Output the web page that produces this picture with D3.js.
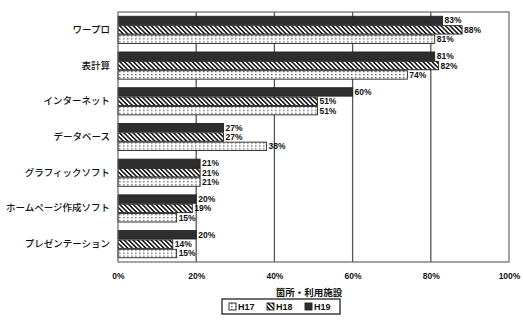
<!DOCTYPE html>
<html>
<head>
<meta charset="utf-8">
<script src="https://cdn.jsdelivr.net/npm/d3@7"></script>
<style>
  html, body { margin: 0; padding: 0; background: #fff; }
  svg { display: block; }
  text { font-family: "Noto Sans CJK JP", "Noto Sans", sans-serif; fill: #111; }
  .num { font-family: "Liberation Sans Narrow", "Liberation Sans", sans-serif; font-weight: bold; }
</style>
</head>
<body>
<svg id="chart" width="523" height="322"></svg>
<script>
// Software usage by category, three survey years (%)
const categories = ["ワープロ", "表計算", "インターネット", "データベース", "グラフィックソフト", "ホームページ作成ソフト", "プレゼンテーション"];
const seriesNames = ["H19", "H18", "H17"];
const valuesH19 = [83, 81, 60, 27, 21, 20, 20];
const valuesH18 = [88, 82, 51, 27, 21, 19, 14];
const valuesH17 = [81, 74, 51, 38, 21, 15, 15];
const xTicks = [0, 20, 40, 60, 80, 100];
const xTitle = "箇所・利用施設";
const legendOrder = ["H17", "H18", "H19"];

const seriesValues = { H19: valuesH19, H18: valuesH18, H17: valuesH17 };

const svg = d3.select("#chart");
const margin = { left: 118, right: 14, top: 12, bottom: 60 };
const W = 523, H = 322;
const plotW = W - margin.left - margin.right;
const plotH = H - margin.top - margin.bottom;

// Fill patterns for the three series
const defs = svg.append("defs");
const dots = defs.append("pattern").attr("id", "pDots").attr("patternUnits", "userSpaceOnUse")
  .attr("width", 4).attr("height", 3);
dots.append("rect").attr("width", 4).attr("height", 3).attr("fill", "#fff");
dots.append("rect").attr("x", 1).attr("y", 1).attr("width", 1.6).attr("height", 1.3).attr("fill", "#7a7a7a");

const hatch = defs.append("pattern").attr("id", "pHatch").attr("patternUnits", "userSpaceOnUse")
  .attr("width", 3.2).attr("height", 3.2).attr("patternTransform", "rotate(-45)");
hatch.append("rect").attr("width", 3.2).attr("height", 3.2).attr("fill", "#fff");
hatch.append("rect").attr("x", 0).attr("y", 0).attr("width", 1.6).attr("height", 3.2).attr("fill", "#1a1a1a");

const fills = { H19: "#2e2e2e", H18: "url(#pHatch)", H17: "url(#pDots)" };

const g = svg.append("g").attr("transform", `translate(${margin.left},${margin.top})`);

const x = d3.scaleLinear().domain([0, 100]).range([0, plotW]);
const y = d3.scaleBand().domain(categories).range([0, plotH]).paddingInner(0.24).paddingOuter(0.12);
const yInner = d3.scaleBand().domain(seriesNames).range([0, y.bandwidth()]).paddingInner(0.1);

// Vertical grid lines
g.selectAll("line.grid").data(xTicks.filter(t => t > 0 && t < 100)).join("line")
  .attr("class", "grid")
  .attr("x1", d => x(d)).attr("x2", d => x(d))
  .attr("y1", 0).attr("y2", plotH)
  .attr("stroke", "#555").attr("stroke-width", 1.3);

// Bars
const groups = g.selectAll("g.cat").data(categories).join("g")
  .attr("class", "cat")
  .attr("transform", d => `translate(0,${y(d)})`);

groups.each(function (cat, i) {
  const grp = d3.select(this);
  seriesNames.forEach(s => {
    const v = seriesValues[s][i];
    grp.append("rect")
      .attr("x", x(0))
      .attr("y", yInner(s))
      .attr("width", x(v) - x(0))
      .attr("height", yInner.bandwidth())
      .attr("fill", fills[s])
      .attr("stroke", "#222").attr("stroke-width", 0.9);
    grp.append("text")
      .attr("class", "num")
      .attr("x", x(v) + 2)
      .attr("y", yInner(s) + yInner.bandwidth() / 2)
      .attr("dy", "0.35em")
      .attr("font-size", 8.5)
      .text(v + "%");
  });
});

// Plot frame
g.append("rect").attr("x", 0).attr("y", 0).attr("width", plotW).attr("height", plotH)
  .attr("fill", "none").attr("stroke", "#666").attr("stroke-width", 1.2);

// Category axis
const yAxis = g.append("g").call(d3.axisLeft(y).tickSize(0).tickPadding(8));
yAxis.select(".domain").remove();
yAxis.selectAll("text").attr("font-size", 9.5).attr("font-weight", 500)
  .style("font-family", "'Noto Sans CJK JP', sans-serif");

// Percentage axis
const xAxis = g.append("g").attr("transform", `translate(0,${plotH})`)
  .call(d3.axisBottom(x).tickValues(xTicks).tickSize(0).tickPadding(11).tickFormat(d => d + "%"));
xAxis.select(".domain").remove();
xAxis.selectAll("text").attr("font-size", 8.5).attr("font-weight", "bold")
  .style("font-family", "'Liberation Sans Narrow', 'Liberation Sans', sans-serif");

// Axis title
svg.append("text")
  .attr("x", 309).attr("y", 296)
  .attr("text-anchor", "middle")
  .attr("font-size", 9.5).attr("font-weight", "bold")
  .text(xTitle);

// Legend
const lg = svg.append("g").attr("transform", "translate(222,299)");
lg.append("rect").attr("width", 118).attr("height", 15)
  .attr("fill", "#fff").attr("stroke", "#333").attr("stroke-width", 1.4);
const lx = d3.scalePoint().domain(legendOrder).range([7, 83]);
legendOrder.forEach(s => {
  lg.append("rect").attr("x", lx(s)).attr("y", 4).attr("width", 7).attr("height", 7)
    .attr("fill", fills[s]).attr("stroke", "#222").attr("stroke-width", 0.9);
  lg.append("text").attr("class", "num").attr("x", lx(s) + 9).attr("y", 11)
    .attr("font-size", 9).text(s);
});
</script>
</body>
</html>
